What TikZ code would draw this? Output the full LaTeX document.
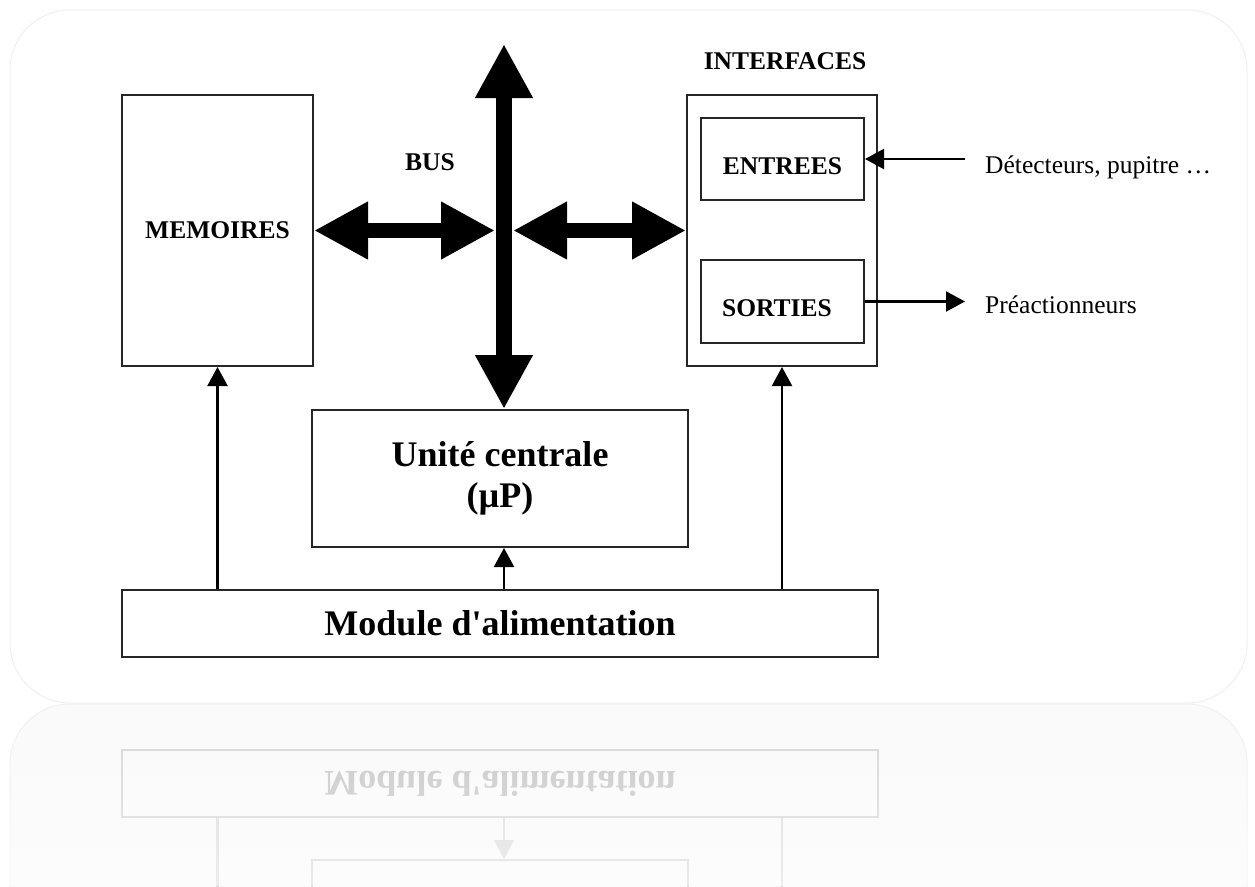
\documentclass[tikz,border=0pt]{standalone}
\usepackage{fontspec}
\setmainfont{Liberation Serif}[Ligatures=TeXOff]
\usetikzlibrary{arrows.meta,fadings}

\colorlet{ink}{black}
\colorlet{boxline}{black!85}
\colorlet{busink}{black}

\tikzfading[name=reflfade, top color=transparent!100, bottom color=transparent!0]

\newcommand\lblfont{\fontsize{25.5}{30}\selectfont\bfseries}
\newcommand\bigfont{\fontsize{36}{41}\selectfont\bfseries}
\newcommand\plainfont{\fontsize{25.5}{30}\selectfont}

\tikzset{
  box/.style={draw=boxline, line width=2pt, inner sep=0pt, font=\lblfont, text=ink},
  lbl/.style={inner sep=0pt, font=\lblfont, text=ink},
  plain/.style={inner sep=0pt, font=\plainfont, text=ink},
  bus/.style={draw=busink, line width=15.5pt,
    {Triangle[length=54pt,width=54pt]}-{Triangle[length=54pt,width=54pt]}},
  sig/.style={draw=ink, line width=2.2pt, -{Triangle[length=19pt,width=20pt]}},
  cardedge/.style={draw=black!6, line width=1pt},
}

\begin{document}
\begin{tikzpicture}[x=1pt,y=-1pt]
  \useasboundingbox (0,0) rectangle (1255,886);
  \clip (0,0) rectangle (1255,886);
  \fill[white] (0,0) rectangle (1255,886);
  % reflected card and main card
  \draw[cardedge, fill=black!2, rounded corners=60pt] (10,704) rectangle (1247,1100);
  \draw[cardedge, fill=white, rounded corners=60pt] (10,10) rectangle (1247,703);

  % blocks
  \node[box, minimum width=191pt, minimum height=271pt] (mem) at (217.5,230.5) {MEMOIRES};
  \node[box, minimum width=190pt, minimum height=271pt] (intf) at (782,230.5) {};
  \node[lbl] (intftitle) at (785,61) {INTERFACES};
  \node[box, minimum width=163pt, minimum height=82pt] (in) at (782.5,159) {};
  \node[lbl] (intext) at (782.5,166) {ENTREES};
  \node[box, minimum width=163pt, minimum height=83pt] (out) at (782.5,301.5) {};
  \node[lbl] (outtext) at (777,308.5) {SORTIES};
  \node[box, minimum width=376pt, minimum height=137pt, font=\bigfont, align=center]
    (cpu) at (500,478.5) {Unité centrale\\(µP)};
  \node[box, minimum width=756pt, minimum height=67pt, font=\bigfont]
    (mod) at (500,623.5) {Module d'alimentation};
  \node[lbl] (buslabel) at (430,162) {BUS};

  % bus
  \coordinate (bustop) at (504,44);
  \coordinate (busL) at (495,230.5);
  \coordinate (busR) at (513,230.5);
  \draw[bus] (bustop) -- (bustop |- cpu.north);
  \draw[bus] (mem.east) -- (busL);
  \draw[bus] (busR) -- (intf.west);

  % power supply lines
  \draw[sig] (mem.south |- mod.north) -- (mem.south);
  \draw[sig] (bustop |- mod.north) -- (bustop |- cpu.south);
  \draw[sig] (intf.south |- mod.north) -- (intf.south);

  % field signals
  \coordinate (detsrc) at (965,159);
  \coordinate (preact) at (965,301.5);
  \draw[sig] (detsrc) -- (in.east);
  \draw[sig] (out.east) -- (preact);
  \node[plain, anchor=base west] (dettext) at (985,173) {Détecteurs, pupitre …};
  \node[plain, anchor=base west] (pretext) at (985,313) {Préactionneurs};

  % mirrored copy of the lower blocks below the card
  \begin{scope}
    \clip (0,704.5) rectangle (1255,886);
    \begin{scope}[shift={(0,1407)}, yscale=-1, transform shape]
      \colorlet{ink}{black!22}
      \colorlet{boxline}{black!16}
      \node[box, minimum width=376pt, minimum height=137pt] (rcpu) at (500,478.5) {};
      \node[box, minimum width=756pt, minimum height=67pt, font=\bigfont]
        (rmod) at (500,623.5) {Module d'alimentation};
      \coordinate (rmemfoot) at (217.5,500);
      \coordinate (rintffoot) at (782,500);
      \draw[sig, draw=black!14] (rmemfoot |- rmod.north) -- (rmemfoot);
      \draw[sig, draw=black!14] (bustop |- rmod.north) -- (bustop |- rcpu.south);
      \draw[sig, draw=black!14] (rintffoot |- rmod.north) -- (rintffoot);
    \end{scope}
    \fill[white, fill opacity=0.5, path fading=reflfade] (0,704.5) rectangle (1255,886);
  \end{scope}
\end{tikzpicture}
\end{document}
